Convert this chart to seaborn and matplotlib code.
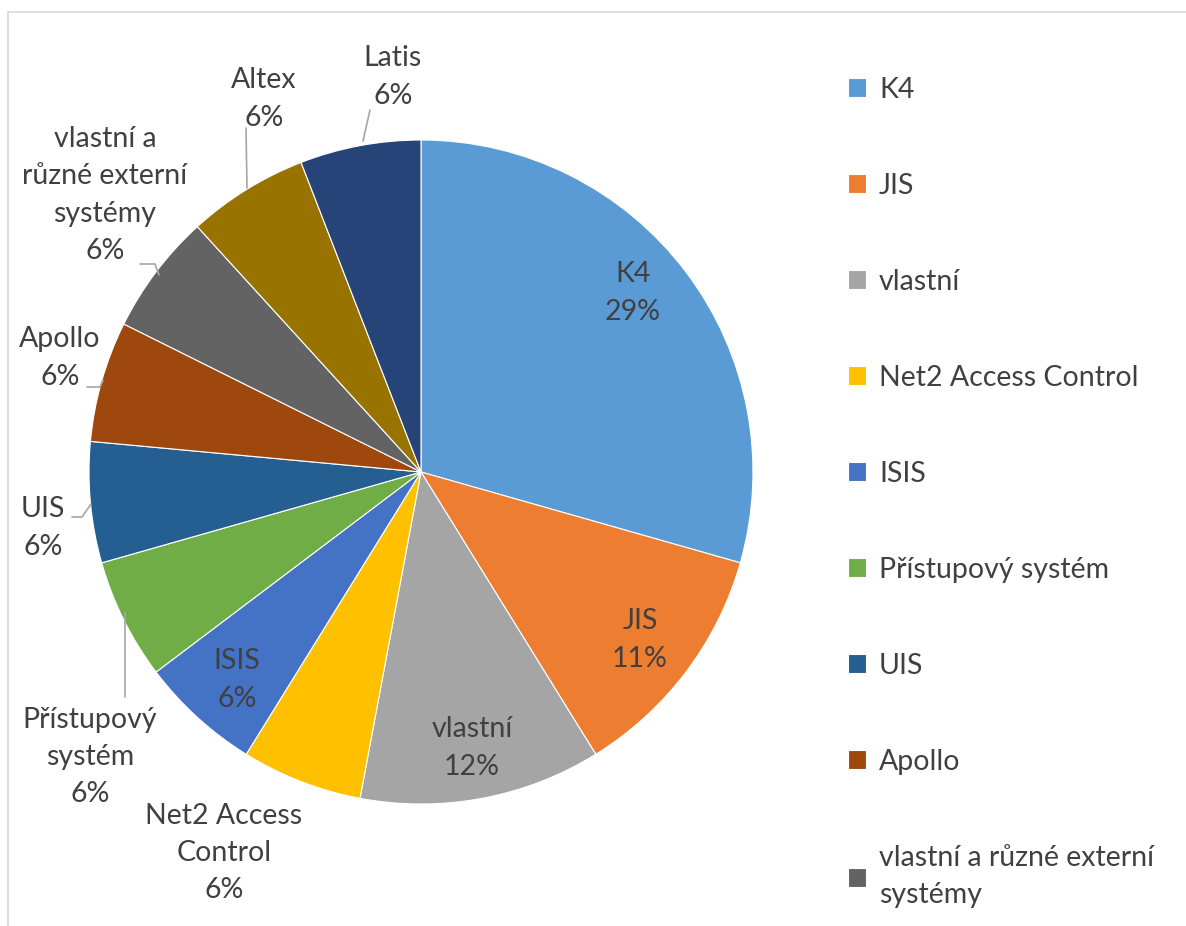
import matplotlib
matplotlib.use("Agg")
import matplotlib.pyplot as plt
from matplotlib.lines import Line2D
import seaborn as sns

sns.set_theme(style="white")
plt.rcParams['font.family'] = ['Lato', 'DejaVu Sans']

# ---- data ----
categories = ["K4", "JIS", "vlastní", "Net2 Access Control", "ISIS",
              "Přístupový systém", "UIS", "Apollo",
              "vlastní a různé externí systémy", "Altex", "Latis"]
counts = [5, 2, 2, 1, 1, 1, 1, 1, 1, 1, 1]
pct_labels = ["29%", "11%", "12%", "6%", "6%", "6%", "6%", "6%", "6%", "6%", "6%"]
colors = ["#5B9BD5", "#ED7D31", "#A5A5A5", "#FFC000", "#4472C4", "#70AD47",
          "#255E91", "#9E480E", "#636363", "#997300", "#264478"]
label_text = ["K4", "JIS", "vlastní", "Net2 Access\nControl", "ISIS",
              "Přístupový\nsystém", "UIS", "Apollo",
              "vlastní a\nrůzné externí\nsystémy", "Altex", "Latis"]
legend_text = ["K4", "JIS", "vlastní", "Net2 Access Control", "ISIS",
               "Přístupový systém", "UIS", "Apollo",
               "vlastní a různé externí\nsystémy"]

W, H = 1186, 926
fig = plt.figure(figsize=(W / 100, H / 100), dpi=100)
palette = sns.color_palette(colors)

CX, CY, R = 421, 472, 332
ax = fig.add_axes([(CX - R) / W, (H - CY - R) / H, 2 * R / W, 2 * R / H])
wedges, _ = ax.pie(counts, colors=palette, startangle=90, counterclock=False,
                   radius=1.0, wedgeprops=dict(edgecolor="white", linewidth=0.8))
ax.set_xlim(-1, 1)
ax.set_ylim(-1, 1)
ax.set_aspect("equal")
ax.axis("off")

def d(px, py):
    return (px - CX) / R, (CY - py) / R

TXT = "#404040"
FS = 20.5
LS = 1.53
# label centre positions (pixels)
label_pos = [(633, 293), (640, 640), (472, 748), (224, 853), (237, 680),
             (90, 757), (43, 528), (60, 358), (105, 195), (264, 99), (393, 77)]
for t, p, (px, py) in zip(label_text, pct_labels, label_pos):
    x, y = d(px, py)
    ax.text(x, y, f"{t}\n{p}", ha="center", va="center", fontsize=FS,
            color=TXT, linespacing=LS, clip_on=False)

# leader lines (pixels)
leaders = [
    [(363, 141), (370, 110)],
    [(247, 188), (246, 128)],
    [(159, 275), (155, 264), (140, 264)],
    [(103, 380), (100, 387), (87, 387)],
    [(91, 504), (82, 517), (72, 517)],
    [(125, 612), (125, 697)],
]
for seg in leaders:
    xs, ys = zip(*[d(px, py) for px, py in seg])
    ax.add_line(Line2D(xs, ys, color="#A6A6A6", lw=1.2, clip_on=False))

# legend
leg = fig.legend(wedges[:9], legend_text, loc="upper left",
                 bbox_to_anchor=(822 / W, 1 - 51 / H), frameon=False,
                 fontsize=FS, handlelength=0.65, handleheight=0.65,
                 handletextpad=0.45, labelspacing=2.46, labelcolor=TXT)
for t in leg.get_texts():
    t.set_linespacing(LS)

# outer frame (partially visible)
fig.add_artist(Line2D([8 / W, 1.0], [1 - 12 / H, 1 - 12 / H],
                      transform=fig.transFigure, color="#D9D9D9", lw=1.2))
fig.add_artist(Line2D([8 / W, 8 / W], [0, 1 - 12 / H],
                      transform=fig.transFigure, color="#D9D9D9", lw=1.2))

fig.savefig("out.png", dpi=100, facecolor="white")
